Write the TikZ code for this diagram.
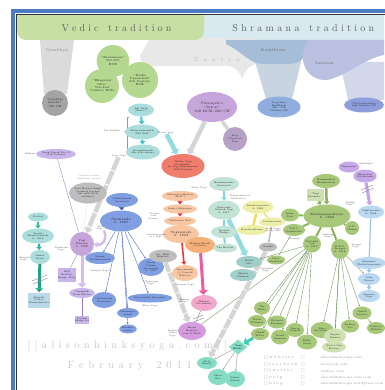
\documentclass[tikz,border=0pt]{standalone}
\usepackage{fontspec}
\usetikzlibrary{shapes.geometric,arrows.meta}
\pgfdeclarelayer{back}\pgfdeclarelayer{mid}\pgfsetlayers{back,mid,main}
\definecolor{vedic}{HTML}{C7DFA2}\definecolor{shram}{HTML}{D8E9F0}
\definecolor{buddh}{HTML}{A6BDD8}\definecolor{buddhf}{HTML}{C8D5E1}
\definecolor{jain}{HTML}{BAC0DF}\definecolor{jainf}{HTML}{D2D7EA}
\definecolor{tantra}{HTML}{E8E8E8}\definecolor{samk}{HTML}{DBDBDB}
\definecolor{samkc}{HTML}{A4A4A4}\definecolor{vgreen}{HTML}{B4D88F}
\definecolor{yogc}{HTML}{8FAEDF}\definecolor{tattc}{HTML}{8E9EDD}
\definecolor{purp}{HTML}{C6A5DB}\definecolor{rajac}{HTML}{B5A2C6}
\definecolor{teal}{HTML}{AADDDB}\definecolor{tealA}{HTML}{35C2CA}
\definecolor{tealL}{HTML}{93DCE0}\definecolor{coral}{HTML}{F07C6B}
\definecolor{grayA}{HTML}{D5D5D5}\definecolor{purpL}{HTML}{C9B5EA}
\definecolor{purpD}{HTML}{9B80C9}\definecolor{gryc}{HTML}{BDBDBD}
\definecolor{lavL}{HTML}{D3BEEE}\definecolor{boxb}{HTML}{B9D8EA}
\definecolor{kripA}{HTML}{2DB59C}\definecolor{kripA2}{HTML}{1FA384}
\definecolor{blue}{HTML}{809EE2}\definecolor{blueD}{HTML}{3D5FC2}
\definecolor{peach}{HTML}{F8C6A3}\definecolor{redA}{HTML}{E33B3A}
\definecolor{orng}{HTML}{F5B07A}\definecolor{pinkc}{HTML}{F1A8CC}
\definecolor{pinkA}{HTML}{EA5BA0}\definecolor{baronc}{HTML}{D69CE0}
\definecolor{tg}{HTML}{C2E3D6}\definecolor{tgA}{HTML}{80D3DA}
\definecolor{tgD}{HTML}{9FCECB}\definecolor{yel}{HTML}{EDEFA8}
\definecolor{yelA}{HTML}{EFDB55}\definecolor{kg}{HTML}{A7C879}
\definecolor{kgL}{HTML}{CFE1B0}\definecolor{kgA}{HTML}{8DB35F}
\definecolor{kgLine}{HTML}{6F9150}\definecolor{ywc}{HTML}{86DCC4}
\definecolor{ywA}{HTML}{3FCDB6}\definecolor{lav}{HTML}{C7A8E8}
\definecolor{lavA}{HTML}{C4A2EC}\definecolor{lb}{HTML}{BAD8F0}
\definecolor{lbA}{HTML}{9CC4E8}\definecolor{framec}{HTML}{4A7BC3}
\newcommand\nf{\fontsize{2.4}{2.7}\selectfont}
\newcommand\mf{\fontsize{3.2}{3.6}\selectfont}
\newcommand\lf{\fontsize{2.2}{2.5}\selectfont}
\makeatletter
\def\spreadtext#1#2{\def\spr@k{#1}\spr@loop#2\spr@end}
\def\spr@end{\spr@end}
\def\spr@loop#1{\ifx#1\spr@end\else#1\kern\spr@k\expandafter\spr@loop\fi}
\makeatother
\begin{document}
\begin{tikzpicture}[x=1pt,y=-1pt,
 el/.style n args={3}{ellipse,fill=#3,minimum width=#1pt,minimum height=#2pt,inner sep=0pt,align=center,font=\nf,text=black!85},
 bx/.style n args={3}{rectangle,fill=#3,minimum width=#1pt,minimum height=#2pt,inner sep=0pt,align=center,font=\nf,text=black!85},
 lbl/.style={font=\lf,align=center,text=black!70,inner sep=0pt},
 fatA/.style={line width=2pt,draw=#1,-{Triangle[length=3pt,width=5.5pt]}},
 wideA/.style={line width=4.5pt,draw=#1,-{Triangle[length=4.5pt,width=9pt]}},
 thinL/.style={line width=0.35pt,draw=#1},
 thinA/.style={line width=0.35pt,draw=#1,-{Stealth[length=1.8pt,width=1.6pt]}},
 slash/.style={line width=0.4pt,draw=black!45}]
\useasboundingbox (0,0) rectangle (384,390);

% ---------- nodes ----------
% Vedic
\node[el={32}{32}{vgreen},font=\fontsize{2.9}{3.3}\selectfont] (brah) at (113,61) {``Brahmanas''\\900-500\\BCE};
\node[el={34}{34}{vgreen},font=\fontsize{2.9}{3.3}\selectfont] (gita) at (102,86) {``Bhagavad\\Gita''\\5th--2nd\\Century BCE};
\node[el={36}{36}{vgreen},font=\fontsize{2.9}{3.3}\selectfont] (katha) at (140,80) {``Katha\\Upanishad''\\6th Century\\BCE};
\node[el={26}{26}{samkc},font=\fontsize{2.8}{3.2}\selectfont] (samkk) at (55,103) {``Samkhya\\Karika''\\200 CE};
% Shramana
\node[el={43}{21}{yogc}] (yogach) at (279,107) {Yogachara\\Buddhism\\4th -- 5th\\Century CE};
\node[el={40}{15}{tattc}] (tattva) at (364,105) {``Tattvarthasutra''\\2nd Century CE};
% Patanjali
\node[el={50}{30}{purp},font=\fontsize{3.4}{3.9}\selectfont] (pat) at (212,107) {Patanjali's\\``Sutras''\\100 BCE--500 CE};
\node[el={24}{24}{rajac}] (raja) at (235,139) {Raja\\(Classical)\\Yoga};
% Siddhas
\node[el={26}{13}{teal}] (adi) at (141,110) {Adi Nath\\(Shiva?)};
\node[el={34}{15}{teal}] (mats) at (142,132) {Matsyendranath\\``The Fish''};
\node[el={34}{15}{teal}] (gora) at (143,152) {Gorakshanath\\6th--8th century};
\node[lbl] (sidd) at (112,131) {The Siddhas};
\node[lbl] (laya) at (119,156) {``Laya Yoga''};
\node[lbl] (hathl) at (166,133) {``Hatha Yoga''};
\node[el={42}{24}{coral}] (hyp) at (183,166) {``Hatha Yoga\\Pradipika''\\by Yogi Swatmarama\\15th Century};
% Sikh / Kundalini
\node[lbl] (sikh) at (30,154) {``Sikhism''};
\node[el={32}{10}{purpL}] (nanak) at (56,154) {Guru Nanak Dev Ji\\15th Century};
\node[lbl,text=black!45] (hazl) at (89,177) {claimed teacher\\``Kundalini master''};
\node[el={29}{21}{gryc}] (hazara) at (88,193) {Sant Hazara Singh\\(claimed teacher,\\but with little\\evidence)};
\node[el={24}{24}{purp},font=\fontsize{2.7}{3.1}\selectfont] (bhajan) at (82,244) {Yogi\\Bhajan\\b. 1929};
\node[lbl] (kyl) at (104,228) {``Kundalini\\Yoga'' 1969};
\node[lbl] (kyl2) at (61,249) {``Kundalini\\Yoga''};
\node[bx={17}{14}{purpL}] (tho) at (67,275) {3HO\\Healthy,\\Happy, Holy};
\node[el={22}{10}{purpL}] (gurmukh) at (82,293) {Gurmukh\\Kaur Khalsa};
\node[bx={13}{8}{purpL}] (golden) at (82,320) {Golden\\Bridge LA};
% Kripalu
\node[el={20}{9}{teal}] (dadaji) at (38,217) {Dadaji};
\node[el={32}{15}{teal}] (kripal) at (38,236) {Swami\\Kripalvananda\\b. 1913};
\node[el={20}{14}{teal}] (amrit) at (40,257) {Amrit\\Desai};
\node[lbl] (kyoga) at (24,259) {``Kripalu\\Yoga''};
\node[bx={22}{15}{boxb}] (kbox) at (39,300) {Kripalu\\Center,\\Massachusetts};
% Sivananda
\node[el={32}{14}{blue}] (vishwa) at (122,200) {Vishwananda\\Saraswati};
\node[el={42}{21}{blue},font=\mf] (siva) at (121,221) {Sivananda\\b. 1887};
\node[lbl] (dls) at (154,216) {``Divine\\Life\\Society''};
\node[el={22}{12}{blue}] (satch) at (100,258) {Swami\\Satchidananda};
\node[lbl] (intl) at (100,271) {``Integral Yoga''};
\node[el={24}{16}{blue}] (chid) at (104,300) {Chidananda\\Saraswati};
\node[el={14}{10}{blue}] (chin) at (128,313) {Chinmaya-\\nanda};
\node[el={14}{9}{blue}] (krn) at (128,329) {Krishna-\\nanda};
\node[el={26}{18}{blue}] (vishnu) at (151,267) {Swami\\Vishnu-\\devananda\\b. 1927};
\node[lbl] (sivy) at (151,283) {``Sivananda\\Yoga''};
\node[el={34}{9}{blue}] (satya) at (150,298) {Satyananda Saraswati};
\node[lbl] (bihar) at (150,306) {``Bihar Yoga''};
% Yogananda
\node[el={32}{10}{peach}] (babaji) at (180,196) {Mahavatar Babaji\\(Real?)};
\node[lbl] (kriyal) at (199,188) {``Kriya Yoga''};
\node[el={32}{9}{peach}] (lahiri) at (180,209) {Lahiri Mahasaya};
\node[el={32}{9}{peach}] (yukt) at (180,221) {Yukteswar Giri};
\node[el={36}{18}{peach},font=\mf] (yoga) at (181,234) {Yogananda\\b. 1893};
\node[lbl] (autob) at (156,236) {``Autobiography\\of a Yogi''};
\node[el={30}{16}{orng}] (bishnu) at (200,245) {Bishnu Ghosh\\(brother)};
\node[el={26}{16}{peach}] (kriyan) at (185,273) {Kriyananda\\(J. Donald\\Walters)};
\node[lbl] (ananda) at (185,285) {``Ananda Yoga''};
\node[el={28}{13}{gryc}] (walt) at (163,256) {Dr. Walt\\Baptiste};
\node[el={26}{16}{pinkc}] (bikram) at (204,303) {Bikram\\Choudhury};
\node[lbl] (bikl) at (184,301) {``Bikram\\Yoga''};
\node[el={28}{18}{baronc}] (baron) at (192,331) {Baron\\Baptiste\\(son of Walt)};
\node[lbl] (powl) at (173,333) {``Baptiste\\Power\\Yoga''};
% Maharishi
\node[el={30}{14}{tg}] (brahm) at (224,184) {Brahmananda\\Saraswati};
\node[el={32}{19}{tg}] (mahar) at (224,210) {Maharishi\\Mahesh Yogi\\b. 1917};
\node[lbl] (tml) at (239,197) {``Transcendental\\Meditation''};
\node[el={26}{12}{tg}] (deepak) at (224,232) {Deepak\\Chopra};
\node[el={24}{9}{tg}] (beatles) at (225,248) {The Beatles};
% yellow
\node[el={30}{13}{yel}] (kuval) at (258,207) {Kuvalayananda\\b. 1883};
\node[el={22}{10}{yel}] (kaival) at (252,230) {Kaivalyadhama};
\node[el={24}{9}{yel}] (vivek) at (272,222) {Vivekananda};
\node[lbl] (vivl) at (273,230) {``Raja Yoga''\\(book) 1896};
\node[el={18}{9}{gryc}] (gandhi) at (268,247) {Gandhi};
% Jivamukti
\node[el={26}{12}{tgD}] (david) at (249,262) {David\\Life};
\node[el={26}{12}{tgD}] (sharon) at (243,275) {Sharon\\Gannon};
\node[lbl] (jivl) at (266,270) {``Jivamukti\\Yoga''};
% Krishnamacharya
\node[el={28}{14}{kg}] (ramam) at (326,181) {Ramamohan\\Brahmachari};
\node[bx={17}{12}{kgL}] (korunta) at (315,195) {``Yoga\\Korunta''};
\node[el={44}{23}{kg},font=\mf] (krish) at (327,216) {Krishnamacharya\\b. 1888};
\node[el={18}{13}{kg}] (indra) at (290,215) {Indra\\Devi};
\node[el={21}{12}{kg}] (desik) at (294,230) {T.K.V.\\Desikachar};
\node[lbl] (vinil) at (294,239) {``Viniyoga''};
\node[el={14}{14}{kg}] (mohan) at (352,228) {A.G.\\Mohan};
\node[el={18}{17}{kg}] (jois) at (312,244) {Pattabhi\\Jois\\b. 1915};
\node[lbl] (ashl) at (328,236) {``Ashtanga\\Yoga''};
\node[el={18}{20}{kg}] (iyen) at (340,249) {B.K.S.\\Iyengar\\b. 1918};
\node[lbl] (iyl) at (356,246) {``Iyengar\\Yoga''};
\node[el={15}{9}{kg}] (gary) at (276,260) {Gary\\Kraftsow};
% bottom green
\node[el={16}{13}{kg}] (g1) at (262,308) {Tim\\Miller};
\node[el={18}{12}{kg}] (g2) at (257,321) {David\\Williams};
\node[el={18}{12}{kg}] (g3) at (260,334) {Chuck\\Miller};
\node[el={19}{13}{kg}] (g4) at (277,322) {Richard\\Freeman};
\node[el={18}{15}{kg}] (g5) at (280,337) {David\\Swenson};
\node[el={18}{14}{kg}] (g6) at (295,330) {Nancy\\Gilgoff};
\node[el={20}{15}{kg}] (g7) at (307,342) {Eddie\\Stern};
\node[el={23}{16}{kg}] (g8) at (322,330) {Kino\\MacGregor};
\node[el={22}{15}{kgL}] (g9) at (335,336) {Angela\\Farmer};
\node[el={24}{11}{kgL}] (g10) at (334,347) {Victor Van\\Kooten};
\node[el={18}{13}{kg}] (g11) at (350,326) {Rodney\\Yee};
\node[el={19}{13}{kg}] (g12) at (362,313) {Judith\\Lasater};
\node[el={18}{12}{kg}] (g13) at (376,328) {Patricia\\Walden};
% Yoga Works
\node[diamond,fill=ywc,minimum width=19pt,minimum height=15pt,inner sep=0pt,align=center,font=\nf] (yw) at (238,347) {``Yoga\\Works''};
\node[el={20}{12}{ywc}] (maty) at (207,363) {Maty\\Ezraty};
\node[el={20}{16}{ywc}] (shiva) at (218,377) {Shiva\\Rea};
\node[el={20}{16}{ywc}] (vinnie) at (235,379) {Vinnie\\Marino};
% Muktananda column
\node[el={14}{11}{lav}] (zipr) at (349,167) {Zipruanna};
\node[el={22}{13}{lav}] (nity) at (365,176) {Bhagawan\\Nityananda};
\node[lbl] (shakl) at (366,164) {``Shaktipat''};
\node[el={26}{13}{lb}] (mukt) at (371,212) {Muktananda\\b. 1908};
\node[lbl] (siddhay) at (350,204) {``Siddha\\Yoga''};
\node[el={25}{12}{lb}] (gurum) at (369,263) {Gurumayi\\Chidvilasananda};
\node[el={22}{12}{lb}] (jfriend) at (369,279) {John\\Friend};
\node[el={22}{12}{lb}] (anus) at (369,296) {Anusara\\Yoga};

% ---------- background shapes ----------
\begin{pgfonlayer}{back}
\fill[white] (0,0) rectangle (384,390);
\fill[shram] (195,14) -- (384,14) -- (384,44) -- (205,44) arc[start angle=90,end angle=180,radius=10] -- cycle;
\fill[tantra] (150,38) -- (258,38) -- (258,64) .. controls (250,64) and (245,70) .. (242,79) .. controls (239,70) and (234,66) .. (226,66) -- (150,66) arc[start angle=90,end angle=180,radius=10] -- cycle;
\fill[buddhf] (254,58) -- (302,58) -- (292,99) -- (266,99) -- cycle;
\fill[jainf] (340,62) -- (384,62) -- (384,100) -- (348,100) -- cycle;
\fill[buddh] (226,40) -- (310,40) -- (306,52) .. controls (303,60) and (300,63) .. (290,64) -- (262,64) .. controls (250,64) and (240,50) .. (226,44) -- cycle;
\fill[jain] (308,40) -- (384,40) -- (384,55) .. controls (365,58) and (340,80) .. (325,80) .. controls (312,80) and (304,70) .. (303,60) .. controls (302,52) and (305,45) .. (308,40) -- cycle;
\fill[vedic] (17,14) -- (204,14) -- (204,31) arc[start angle=0,end angle=90,radius=9] -- (26,40) arc[start angle=90,end angle=180,radius=9] -- cycle;
\fill[samk] (40,40) -- (74,40) -- (67,94) -- (44,94) -- cycle;
\node[font=\fontsize{10}{12}\selectfont,text=black!62] (vt) at (118,28) {\spreadtext{3.1pt}{Vedic~tradition}};
\node[font=\fontsize{10}{12}\selectfont,text=black!62] (st) at (305,28) {\spreadtext{3.3pt}{Shramana~tradition}};
\node[font=\fontsize{4.2}{5}\selectfont,text=black!45] (samlbl) at (57,50) {Samkhya};
\node[font=\fontsize{4.2}{5}\selectfont,text=black!55] (budlbl) at (273,50) {Buddhism};
\node[font=\fontsize{4.2}{5}\selectfont,text=black!55] (jainlbl) at (324,63) {Jainism};
\node[font=\fontsize{6}{7}\selectfont,text=black!25] (tantlbl) at (219,60) {\spreadtext{4.8pt}{Tantra}};
\node[anchor=west,font=\fontsize{10.5}{12}\selectfont,text=black!22] (wm) at (24,346) {\spreadtext{4.3pt}{[[alisonhinksyoga.com]]}};
\node[anchor=west,font=\fontsize{10.5}{12}\selectfont,text=black!22] (feb) at (64,366) {\spreadtext{4.8pt}{February~2011}};
\foreach \i/\a/\b in {0/website/alisonhinksyoga.com,1/facebook/facebook.com/alisonhinksyoga,2/twitter/twitter.com/alisonhinksyoga,3/yelp/alisonhinksyoga.yelp.com,4/blog/alisonhinksyoga.wordpress.com}{
 \edef\linkword{\noexpand\spreadtext{1.3pt}{[[\a}}
 \node[anchor=west,font=\fontsize{3.8}{4}\selectfont,text=black!40] (lk\i) at (260,{358+6.5*\i}) {\linkword};
 \node[anchor=west,font=\fontsize{3.8}{4}\selectfont,text=black!40] (rk\i) at (297,{358+6.5*\i}) {\spreadtext{1.3pt}{]]}};
 \node[anchor=west,font=\fontsize{3.4}{4}\selectfont,text=black!40] (ur\i) at (317,{358+6.5*\i}) {\b};
}
\end{pgfonlayer}

% ---------- connectors ----------
\begin{pgfonlayer}{mid}
\draw[fatA=tealA] (adi) -- (mats);
\draw[fatA=tealA] (mats) -- (gora);
\draw[line width=0.3pt,black!40] (129,117) -- (127,117) -- (127,150) -- (129,150) (127,131) -- (124,131);
\draw[wideA=tealL] (hathl) -- (hyp);
\draw[wideA=grayA] (pat) -- (hyp);
\draw[line width=3.5pt,draw=grayA] (pat) -- (raja);
\draw[wideA=grayA,dash pattern=on 14pt off 1.2pt] (laya) -- (bhajan);
% Sikh / Kundalini
\draw[thinL=purpD] (nanak) -- (bhajan);
\draw[line width=0.5pt,draw=black!35,dotted] (hazara) -- (bhajan);
\draw[thinL=purpD] (bhajan) -- (tho);
\draw[wideA=lavL,line width=3pt] (bhajan) -- (gurmukh);
\draw[thinL=purpD] (gurmukh) -- (golden);
\draw[line width=2.5pt,draw=lavL,-{Triangle[length=3pt,width=5.5pt]}] (kyl.south) .. controls (108,241) and (101,246) .. (bhajan.east);
% Kripalu
\draw[fatA=kripA] (dadaji) -- (kripal);
\draw[fatA=kripA] (kripal) -- (amrit);
\draw[line width=3pt,draw=kripA2,-{Triangle[length=4pt,width=7pt]}] (amrit) -- (kbox);
\draw[slash] (32,281) -- (47,275) (33,284) -- (48,278);
% Sivananda
\draw[fatA=blueD] (vishwa) -- (siva);
\foreach \t in {satch,chid,chin,krn,vishnu,satya} \draw[thinA=blueD] (siva) -- (\t);
% Yogananda
\draw[fatA=redA] (babaji) -- (lahiri);
\draw[fatA=redA] (lahiri) -- (yukt);
\draw[fatA=redA] (yukt) -- (yoga);
\draw[line width=1.6pt,draw=redA,-{Triangle[length=3pt,width=5pt]}] (yoga) -- (kriyan);
\draw[wideA=pinkA,line width=3pt] (bishnu) -- (bikram);
\draw[thinL=black!50] (bikram) -- (baron);
\draw[slash] (193,319) -- (203,315) (194,322) -- (204,318);
\draw[wideA=grayA,dash pattern=on 10pt off 1pt] (walt) -- (baron);
\draw[thinL=kgLine] (jois) -- (baron);
% Maharishi
\draw[fatA=tgA] (brahm) -- (mahar);
\draw[line width=2pt,draw=tgA] (mahar) -- (deepak);
\draw[line width=2pt,draw=tgA] (deepak) -- (beatles);
\draw[wideA=tealL] (mahar) -- (david);
% yellow
\draw[line width=2.5pt,draw=yelA] (kuval) -- (kaival);
\draw[line width=1.2pt,draw=yelA] (kuval) -- (vivek);
\draw[line width=1.5pt,draw=black!25,-{Triangle[length=2pt,width=3pt]}] (vivek) -- (gandhi);
\draw[wideA=grayA,dash pattern=on 10pt off 1pt] (gandhi) -- (maty);
% Krishnamacharya
\draw[fatA=kgA,line width=2.5pt] (ramam) -- (krish);
\draw[fatA=kgA] (korunta) -- (krish);
\foreach \t in {indra,desik,mohan,jois,iyen} \draw[line width=2pt,draw=kgA] (krish) -- (\t);
\draw[thinL=kgLine] (desik) -- (gary);
\foreach \t in {g1,g2,g3,g4,g5,g6,g7,david} \draw[thinA=kgLine] (jois) -- (\t);
\foreach \t in {g8,g9,g10,g11,g12,jfriend} \draw[thinA=kgLine] (iyen) -- (\t);
\draw[thinA=kgLine] (g12) -- (g13);
% Yoga Works
\draw[wideA=ywA,line width=3pt] (g3) -- (yw);
\foreach \t in {maty,shiva,vinnie} \draw[thinA=black!45] (yw) -- (\t);
% Muktananda
\draw[thinL=lav] (zipr) -- (nity);
\draw[line width=3pt,draw=lavA,-{Triangle[length=3.5pt,width=6pt]}] (nity) -- (mukt);
\draw[slash] (361,190) -- (373,185) (362,193) -- (374,188);
\draw[line width=1.2pt,draw=lbA] (mukt) -- (gurum);
\draw[fatA=lbA] (gurum) -- (jfriend);
\draw[fatA=lbA] (jfriend) -- (anus);
\end{pgfonlayer}

% frame
\draw[framec,line width=4pt] (13,392) -- (13,11) -- (386,11);
\draw[black!80,line width=0.8pt] (16.4,392) -- (16.4,14.4) -- (386,14.4);
\end{tikzpicture}
\end{document}
